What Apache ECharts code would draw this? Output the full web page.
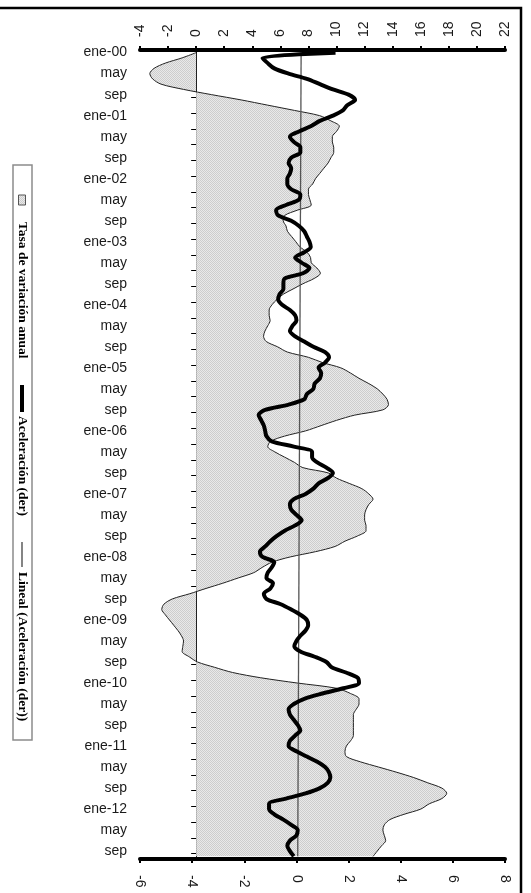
<!DOCTYPE html>
<html>
<head>
<meta charset="utf-8">
<script src="https://cdn.jsdelivr.net/npm/echarts/dist/echarts.min.js"></script>
<style>
html,body{margin:0;padding:0;background:#fff;}
#chart{width:531px;height:893px;}
</style>
</head>
<body>
<div id="chart"></div>
<script>
// ---- data ----
const years = ['00','01','02','03','04','05','06','07','08','09','10','11','12'];
const monthNames = ['ene','feb','mar','abr','may','jun','jul','ago','sep','oct','nov','dic'];
const nMonths = 154; // ene-00 .. oct-12
const categories = [];
for (const y of years) for (const m of monthNames) if (categories.length < nMonths) categories.push(m + '-' + y);

const leftTicks = [-4,-2,0,2,4,6,8,10,12,14,16,18,20,22];
const rightTicks = [-6,-4,-2,0,2,4,6,8];

// Tasa de variación anual (left / top axis)
const tasa = [
 0.0,-1.0,-2.2,-3.0,-3.3,-3.1,-2.5,-0.9,1.1,3.2,
 5.1,7.0,8.8,9.6,10.2,10.0,9.7,9.7,9.8,9.8,
 9.6,9.4,9.1,8.8,8.5,8.3,8.0,8.0,8.1,8.2,
 7.2,6.3,6.2,6.4,6.5,6.8,7.1,7.4,7.9,8.15,
 8.2,8.6,8.85,8.4,7.6,6.9,6.2,5.75,5.4,5.2,
 5.2,5.27,5.1,4.9,4.8,5.0,5.8,6.5,8.0,9.0,
 10.3,11.0,11.6,12.3,12.9,13.3,13.6,13.7,13.3,11.3,
 10.0,8.9,7.8,6.3,5.3,5.1,5.6,6.3,7.0,7.6,
 9.4,10.0,10.9,11.8,12.3,12.6,12.3,12.1,12.0,12.0,
 12.1,12.1,11.5,10.6,9.9,8.5,6.7,5.4,4.7,4.1,
 3.0,1.9,0.7,-0.45,-1.7,-2.3,-2.45,-2.2,-1.9,-1.6,
 -1.3,-1.05,-0.9,-0.95,-1.0,-0.5,0.1,1.3,2.6,4.6,
 7.2,10.0,11.0,11.6,11.6,11.4,11.2,11.2,11.2,11.2,
 11.2,11.0,10.7,10.6,10.7,11.7,13.0,14.3,15.5,16.5,
 17.5,17.85,17.5,16.6,16.0,14.8,13.8,13.4,13.3,13.4,
 13.5,13.2,12.9,12.6
];

// Aceleración (der) (right / bottom axis)
const acel = [
 1.5,-1.3,-1.1,-0.85,-0.3,0.4,0.9,1.4,2.0,2.25,
 1.95,1.78,1.4,0.9,0.55,0.1,-0.25,-0.1,0.15,0.15,
 -0.2,-0.3,-0.2,-0.25,-0.35,-0.35,-0.2,0.15,0.1,-0.4,
 -0.78,-0.7,-0.2,0.1,0.3,0.4,0.5,0.55,0.3,-0.05,
 0.2,0.5,0.25,-0.45,-0.5,-0.5,-0.65,-0.7,-0.55,-0.25,
 -0.05,0.0,-0.15,-0.25,-0.05,0.3,0.65,1.1,1.25,1.1,
 0.85,0.95,0.9,0.7,0.65,0.4,0.3,-0.3,-1.2,-1.45,
 -1.35,-1.25,-1.2,-1.15,-0.95,-0.1,0.6,0.6,0.8,1.15,
 1.4,1.2,0.85,0.65,0.35,-0.1,-0.25,-0.2,0.0,0.2,
 -0.05,-0.45,-0.75,-1.0,-1.2,-1.4,-1.3,-0.85,-0.95,-1.1,
 -1.15,-0.9,-1.0,-1.25,-1.15,-0.6,-0.2,0.15,0.4,0.45,
 0.35,0.15,0.0,-0.08,0.15,0.7,1.15,1.35,1.9,2.35,
 2.4,1.8,1.0,0.3,-0.1,-0.3,-0.25,-0.1,0.05,0.15,
 -0.05,-0.25,-0.3,0.0,0.4,0.8,1.1,1.25,1.3,1.2,
 0.9,0.35,-0.4,-1.05,-1.05,-0.85,-0.5,-0.2,0.05,0.0,
 -0.25,-0.35,-0.25,-0.1
];

// Lineal (Aceleración (der)) : trend line end values
const trendStart = 0.18;
const trendEnd = 0.05;

const legendNames = ['Tasa de variación anual', 'Aceleración (der)', 'Lineal (Aceleración (der))'];

// ---- pattern for the area ----
const pc = document.createElement('canvas');
pc.width = 2; pc.height = 2;
const pctx = pc.getContext('2d');
pctx.fillStyle = '#e9e9e9'; pctx.fillRect(0,0,2,2);
pctx.fillStyle = '#cdcdcd'; pctx.fillRect(0,0,1,1); pctx.fillRect(1,1,1,1);

const chart = echarts.init(document.getElementById('chart'), null, {renderer:'canvas'});
const FONT = "'Liberation Sans', Arial, sans-serif";
const SERIF = "'Liberation Serif', 'Times New Roman', serif";

const valueAxisCommon = {
  type: 'value',
  interval: 2,
  splitLine: {show:false},
  axisLine: {show:true, onZero:false, lineStyle:{color:'#000', width:4}},
  axisTick: {show:true, length:4, lineStyle:{color:'#000', width:2}},
};

chart.setOption({
  animation: false,
  backgroundColor: '#fff',
  grid: {left:140, right:26, top:50, bottom:34, containLabel:false},
  xAxis: [
    Object.assign({}, valueAxisCommon, {
      position:'top', min: leftTicks[0], max: leftTicks[leftTicks.length-1],
      axisLabel: {rotate:-90, margin:13, fontSize:14, color:'#1a1a1a', fontFamily:FONT}
    }),
    Object.assign({}, valueAxisCommon, {
      position:'bottom', min: rightTicks[0], max: rightTicks[rightTicks.length-1],
      axisLabel: {rotate:-90, margin:16, fontSize:14, color:'#1a1a1a', fontFamily:FONT}
    })
  ],
  yAxis: [
    {
      type:'category', data: categories, inverse:true, boundaryGap:true, position:'left',
      axisLine:{show:false, onZero:false}, axisTick:{show:false},
      axisLabel:{interval:3, margin:13, fontSize:14, color:'#1a1a1a', fontFamily:FONT,
        formatter: v => v.startsWith('ene') ? v : v.slice(0,3)}
    },
    {
      type:'category', data: categories, inverse:true, boundaryGap:true, position:'left',
      axisLine:{show:true, onZero:true, onZeroAxisIndex:0, lineStyle:{color:'#000', width:1}},
      axisTick:{show:true, interval:2, length:5, lineStyle:{color:'#000', width:1}},
      axisLabel:{show:false}
    }
  ],
  series: [
    {
      name: legendNames[0], type:'line', xAxisIndex:0, yAxisIndex:0,
      data: tasa, showSymbol:false, symbol:'none', smooth:0.3,
      lineStyle:{color:'#222', width:1},
      areaStyle:{color:{image: pc, repeat:'repeat'}, opacity:1},
      z:1
    },
    {
      name: legendNames[2], type:'line', xAxisIndex:1, yAxisIndex:0,
      data: [[trendStart, 0], [trendEnd, nMonths-1]], showSymbol:false, symbol:'none',
      lineStyle:{color:'#555', width:1.3}, z:2
    },
    {
      name: legendNames[1], type:'line', xAxisIndex:1, yAxisIndex:0,
      data: acel, showSymbol:false, symbol:'none', smooth:0.3,
      lineStyle:{color:'#000', width:4}, z:3
    }
  ],
  graphic: [
    {type:'rect', shape:{x:-3, y:8, width:524, height:900}, style:{fill:null, stroke:'#000', lineWidth:2.5}, silent:true, z:100},
    {type:'rect', shape:{x:13, y:165, width:19, height:575}, style:{fill:'#fff', stroke:'#8c8c8c', lineWidth:1.5}, z:100},
    {type:'rect', shape:{x:18.5, y:195, width:7, height:10}, style:{fill:{image: pc, repeat:'repeat'}, stroke:'#555', lineWidth:1}, z:101},
    {type:'text', x:22, y:222, rotation:-Math.PI/2, style:{text:legendNames[0], font:"bold 13.5px " + SERIF, fill:'#000', textAlign:'left', textVerticalAlign:'middle'}, z:101},
    {type:'line', shape:{x1:22, y1:385, x2:22, y2:412}, style:{stroke:'#000', lineWidth:4}, z:101},
    {type:'text', x:22, y:416, rotation:-Math.PI/2, style:{text:legendNames[1], font:"bold 13.5px " + SERIF, fill:'#000', textAlign:'left', textVerticalAlign:'middle'}, z:101},
    {type:'line', shape:{x1:22, y1:542, x2:22, y2:567}, style:{stroke:'#333', lineWidth:1.2}, z:101},
    {type:'text', x:22, y:572, rotation:-Math.PI/2, style:{text:legendNames[2], font:"bold 13.5px " + SERIF, fill:'#000', textAlign:'left', textVerticalAlign:'middle'}, z:101}
  ]
});
</script>
</body>
</html>
